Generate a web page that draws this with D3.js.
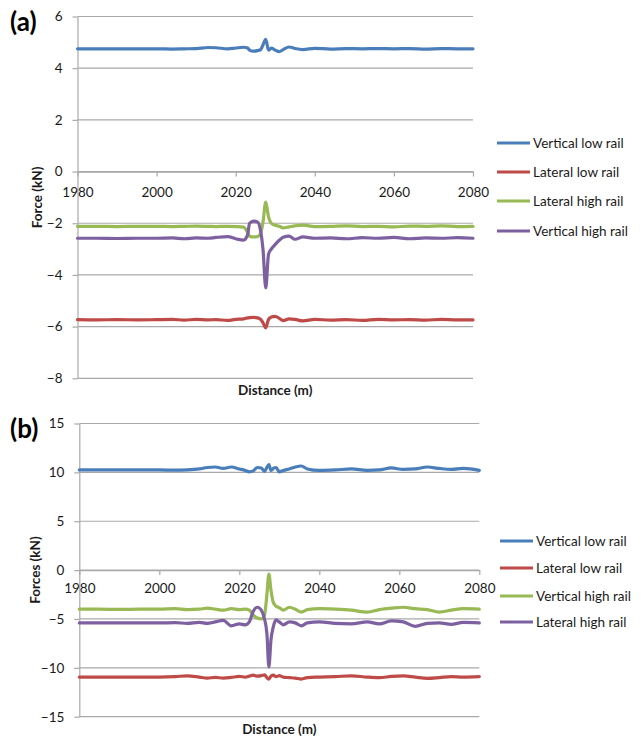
<!DOCTYPE html>
<html><head><meta charset="utf-8">
<script src="https://cdn.jsdelivr.net/npm/d3@7"></script>
<style>
body{margin:0;background:#fff}
svg{display:block}
text{font-family:Lato,"Open Sans",sans-serif}
</style>
</head><body>
<svg id="c" width="642" height="736"></svg>
<script>
// ---------- shared x ticks ----------
const xTicks = [1980, 2000, 2020, 2040, 2060, 2080];

// ---------- panel (a) ----------
const distA = [1980,1985,1990,1995,2000,2004,2007,2010,2013,2015,2018,2020,2022,2023,2023.5,2024.5,2025.5,2026.3,2026.9,2027.6,2028.3,2029,2030,2031,2032,2033.5,2035,2037,2040,2044,2048,2052,2056,2060,2064,2068,2072,2076,2080];
const a_verticalLow  = [4.75,4.75,4.75,4.75,4.75,4.74,4.75,4.76,4.80,4.79,4.75,4.78,4.81,4.78,4.70,4.66,4.68,4.72,4.90,5.12,4.70,4.78,4.70,4.64,4.72,4.82,4.76,4.72,4.77,4.74,4.76,4.75,4.76,4.75,4.76,4.74,4.76,4.75,4.75];
const a_lateralLow   = [-5.73,-5.74,-5.73,-5.74,-5.73,-5.72,-5.75,-5.72,-5.74,-5.73,-5.76,-5.72,-5.70,-5.66,-5.65,-5.64,-5.66,-5.72,-5.85,-6.05,-5.72,-5.63,-5.60,-5.68,-5.77,-5.70,-5.72,-5.78,-5.72,-5.75,-5.73,-5.76,-5.72,-5.74,-5.73,-5.75,-5.72,-5.74,-5.74];
const a_lateralHigh  = [-2.12,-2.12,-2.13,-2.12,-2.12,-2.13,-2.12,-2.11,-2.12,-2.13,-2.12,-2.13,-2.15,-2.35,-2.50,-2.53,-2.52,-2.40,-1.95,-1.18,-1.75,-2.00,-2.08,-2.12,-2.18,-2.14,-2.10,-2.07,-2.13,-2.12,-2.10,-2.13,-2.12,-2.14,-2.11,-2.12,-2.10,-2.13,-2.12];
const a_verticalHigh = [-2.58,-2.58,-2.59,-2.58,-2.58,-2.57,-2.60,-2.57,-2.58,-2.55,-2.52,-2.60,-2.65,-2.45,-2.00,-1.92,-1.95,-2.30,-3.00,-4.50,-3.20,-3.00,-2.82,-2.66,-2.54,-2.50,-2.62,-2.53,-2.58,-2.57,-2.60,-2.56,-2.58,-2.55,-2.60,-2.57,-2.58,-2.56,-2.58];
const yTicksA = [-8,-6,-4,-2,0,2,4,6];
const namesA = ["Vertical low rail","Lateral low rail","Lateral high rail","Vertical high rail"];

// ---------- panel (b) ----------
const distB = [1980,1985,1990,1995,2000,2004,2007,2010,2012,2014,2016,2018,2020,2021.5,2022.5,2023.5,2024.5,2025.5,2026.3,2026.9,2027.4,2027.9,2028.5,2029.2,2030,2031,2032.5,2034,2035.5,2037,2040,2044,2048,2052,2055,2058,2061,2064,2067,2070,2073,2076,2080];
const b_verticalLow  = [10.25,10.25,10.25,10.25,10.25,10.22,10.25,10.35,10.50,10.55,10.40,10.55,10.35,10.20,10.05,10.15,10.50,10.45,10.10,10.50,10.80,10.20,10.40,10.50,10.05,10.20,10.35,10.55,10.65,10.35,10.20,10.25,10.35,10.20,10.25,10.45,10.30,10.35,10.55,10.40,10.30,10.40,10.20];
const b_lateralLow   = [-10.95,-10.95,-10.95,-10.95,-10.95,-10.90,-10.82,-10.95,-11.05,-10.98,-11.05,-10.98,-10.88,-10.95,-10.85,-10.75,-10.85,-10.80,-10.72,-11.00,-11.15,-10.85,-10.75,-10.90,-10.80,-10.95,-11.00,-11.05,-11.15,-11.00,-10.95,-10.90,-10.82,-10.95,-11.00,-10.88,-10.82,-10.95,-11.08,-11.00,-10.90,-10.95,-10.90];
const b_verticalHigh = [-4.00,-4.00,-4.02,-4.00,-4.00,-3.95,-4.05,-4.00,-3.90,-4.00,-4.10,-3.95,-4.05,-4.00,-4.10,-4.60,-4.90,-5.00,-4.60,-2.50,-0.40,-2.00,-3.30,-3.70,-3.85,-4.10,-3.80,-4.00,-4.30,-4.05,-3.95,-4.00,-4.10,-4.30,-4.05,-3.90,-3.80,-3.95,-4.05,-4.30,-4.10,-3.95,-4.00];
const b_lateralHigh  = [-5.40,-5.40,-5.40,-5.40,-5.40,-5.38,-5.45,-5.35,-5.45,-5.30,-5.15,-5.70,-5.50,-5.60,-5.30,-4.20,-3.80,-4.10,-5.00,-6.50,-9.90,-7.20,-5.80,-5.10,-5.30,-5.60,-5.30,-5.40,-5.70,-5.40,-5.30,-5.45,-5.50,-5.30,-5.50,-5.20,-5.30,-5.75,-5.45,-5.40,-5.55,-5.35,-5.40];
const yTicksB = [-15,-10,-5,0,5,10,15];
const namesB = ["Vertical low rail","Lateral low rail","Vertical high rail","Lateral high rail"];

const colors = ["#4A7EBB","#BE4B48","#98B954","#7D60A0"];

const svg = d3.select("#c");
const GRID = "#a9a9a9";

function panel(cfg){
  const g = svg.append("g");
  const x = d3.scaleLinear().domain([1980,2080]).range([cfg.left,cfg.right]);
  const y = d3.scaleLinear().domain(cfg.ydom).range([cfg.bottom,cfg.top]);

  g.append("g").selectAll("line").data(cfg.yTicks).join("line")
    .attr("x1",cfg.left).attr("x2",cfg.right)
    .attr("y1",d=>y(d)).attr("y2",d=>y(d))
    .attr("stroke",GRID).attr("stroke-width",1.2);

  const ya = g.append("g").attr("transform",`translate(${cfg.left},0)`)
    .call(d3.axisLeft(y).tickValues(cfg.yTicks).tickSize(5).tickSizeOuter(0).tickPadding(10).tickFormat(d3.format("d")));
  ya.select(".domain").attr("stroke",GRID).attr("stroke-width",1.2);
  ya.selectAll(".tick line").attr("stroke",GRID).attr("stroke-width",1.2);
  ya.selectAll("text").attr("font-size",13.5).attr("fill","#1a1a1a");

  const xa = g.append("g").attr("transform",`translate(0,${y(0)})`)
    .call(d3.axisBottom(x).tickValues(xTicks).tickSize(5).tickSizeOuter(0).tickPadding(cfg.xpad).tickFormat(d3.format("d")));
  xa.select(".domain").attr("stroke",GRID).attr("stroke-width",1.2);
  xa.selectAll(".tick line").attr("stroke",GRID).attr("stroke-width",1.2);
  xa.selectAll("text").attr("font-size",13.5).attr("fill","#1a1a1a");

  const line = d3.line().x((d,i)=>x(cfg.dist[i])).y(d=>y(d)).curve(d3.curveMonotoneX);
  cfg.series.forEach((s,k)=>{
    g.append("path").attr("d",line(s)).attr("fill","none")
      .attr("stroke",colors[k]).attr("stroke-width",3.2)
      .attr("stroke-linejoin","round").attr("stroke-linecap","round");
  });

  g.append("text").attr("transform",`translate(${cfg.ytx},${(cfg.top+cfg.bottom)/2}) rotate(-90)`)
    .attr("text-anchor","middle").attr("dy","0.35em").attr("font-size",13.5).attr("font-weight","bold")
    .attr("fill","#1a1a1a").text(cfg.ytitle);
  g.append("text").attr("x",(cfg.left+cfg.right)/2).attr("y",cfg.bottom+cfg.xtdy)
    .attr("text-anchor","middle").attr("dy","0.35em").attr("font-size",13.5).attr("font-weight","bold")
    .attr("fill","#1a1a1a").text("Distance (m)");

  g.append("text").attr("x",10).attr("y",cfg.labelY).attr("font-size",26).attr("font-weight","bold")
    .attr("font-family","Arial, 'Liberation Sans', sans-serif").attr("fill","#000").text(cfg.label);

  const lg = g.append("g");
  cfg.names.forEach((n,k)=>{
    const yy = cfg.legY[k];
    lg.append("line").attr("x1",cfg.legX).attr("x2",cfg.legX+33).attr("y1",yy).attr("y2",yy)
      .attr("stroke",colors[k]).attr("stroke-width",3.2);
    lg.append("text").attr("x",cfg.legX+36).attr("y",yy).attr("dy","0.35em")
      .attr("font-size",13.5).attr("fill","#1a1a1a").text(n);
  });
}

panel({left:77.5,right:473,top:16.5,bottom:378.3,ydom:[-8,6],yTicks:yTicksA,xpad:11,
  dist:distA,series:[a_verticalLow,a_lateralLow,a_lateralHigh,a_verticalHigh],
  ytitle:"Force (kN)",ytx:37,xtdy:12,label:"(a)",labelY:31,
  names:namesA,legX:497,legY:[143,172,201,231]});

panel({left:79.3,right:479.3,top:423.5,bottom:716.7,ydom:[-15,15],yTicks:yTicksB,xpad:8,
  dist:distB,series:[b_verticalLow,b_lateralLow,b_verticalHigh,b_lateralHigh],
  ytitle:"Forces (kN)",ytx:35,xtdy:12.5,label:"(b)",labelY:438,
  names:namesB,legX:500,legY:[541,568,596,622]});
</script>
</body></html>
